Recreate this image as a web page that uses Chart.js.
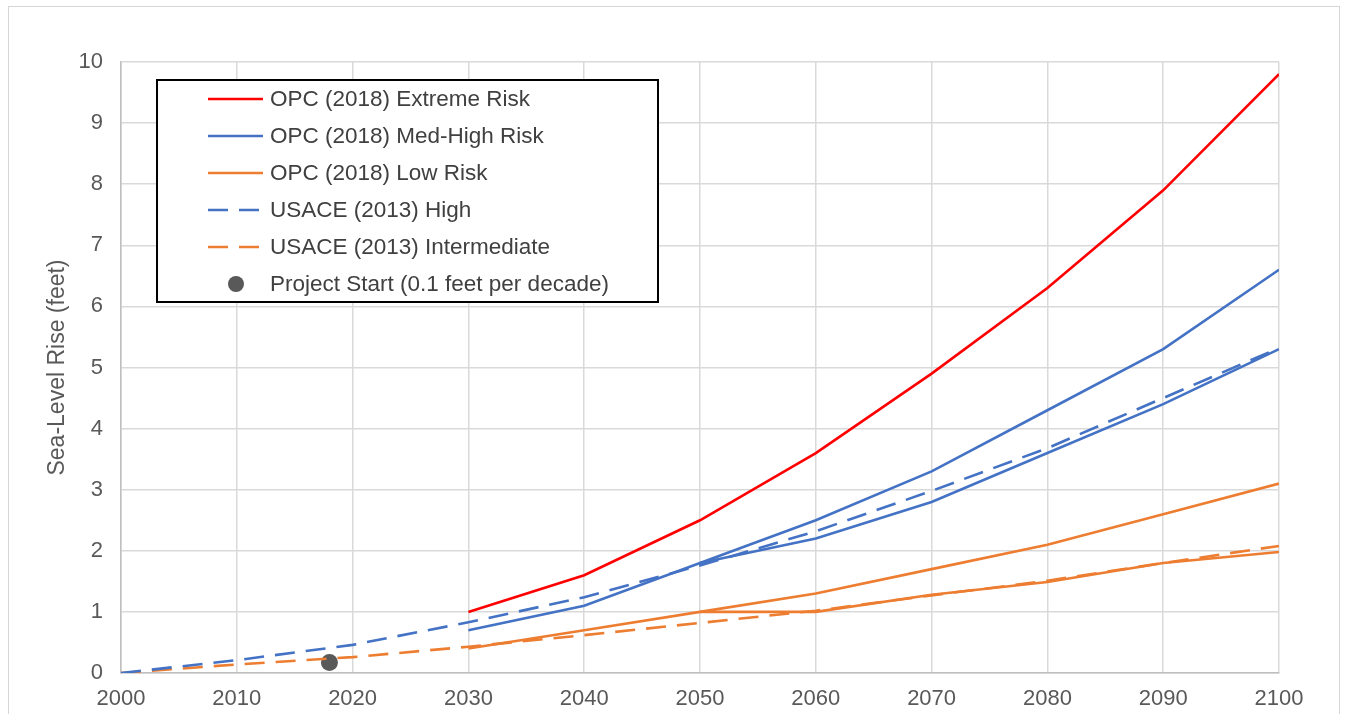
<!DOCTYPE html>
<html>
<head>
<meta charset="utf-8">
<script src="https://cdn.jsdelivr.net/npm/chart.js@4.4.1/dist/chart.umd.min.js"></script>
<style>
  body { margin: 0; background: #fff; }
  #frame { position: absolute; left: 8px; top: 6px; width: 1330px; height: 730px; border: 1.5px solid #D6D6D6; }
  canvas { position: absolute; left: 0; top: 0; }
</style>
</head>
<body>
<div id="frame"></div>
<canvas id="slr" width="1347" height="714"></canvas>
<script>
// decades on the x axis
const years = [2000, 2010, 2020, 2030, 2040, 2050, 2060, 2070, 2080, 2090, 2100];

// sea-level rise in feet (null = no value)
const opcExtreme = [null, null, null, 1.0, 1.6, 2.5, 3.6, 4.9, 6.3, 7.9, 9.8];
const opcMedHigh = [null, null, null, 0.7, 1.1, 1.8, 2.5, 3.3, 4.3, 5.3, 6.6];
const opcLow = [null, null, null, 0.4, 0.7, 1.0, 1.3, 1.7, 2.1, 2.6, 3.1];
const usaceHigh = [0, 0.21, 0.46, 0.83, 1.24, 1.76, 2.32, 2.98, 3.68, 4.5, 5.32];
const usaceIntermediate = [0, 0.14, 0.26, 0.43, 0.62, 0.82, 1.02, 1.27, 1.51, 1.8, 2.08];
// two extra unlabelled lines that start at 2050
const blueExtra = [null, null, null, null, null, 1.8, 2.2, 2.8, 3.6, 4.4, 5.3];
const orangeExtra = [null, null, null, null, null, 1.0, 1.0, 1.28, 1.49, 1.8, 1.98];

const projectStartYear = [2018];
const projectStartValue = [0.17];

const yTicks = [0, 1, 2, 3, 4, 5, 6, 7, 8, 9, 10];

const RED = '#FF0000';
const BLUE = '#4472C4';
const ORANGE = '#ED7D31';
const DOT = '#595959';
const DASH = [20, 11];
const FONT = '"Liberation Sans", Arial, sans-serif';

function pairs(xs, ys) {
  return xs.map((x, i) => ({ x: x, y: ys[i] }));
}

function lineSet(label, values, color, dashed, inLegend) {
  return {
    label: label,
    data: pairs(years, values),
    borderColor: color,
    backgroundColor: color,
    borderWidth: 2.6,
    borderDash: dashed ? DASH : [],
    pointRadius: 0,
    spanGaps: false,
    inLegend: inLegend
  };
}

// legend drawn as a boxed panel inside the plot, like the original
const boxLegend = {
  id: 'boxLegend',
  afterDraw(chart) {
    const ctx = chart.ctx;
    const items = chart.data.datasets.filter(d => d.inLegend);
    const x0 = 157, y0 = 80, w = 501, h = 222;
    ctx.save();
    ctx.fillStyle = '#fff';
    ctx.fillRect(x0, y0, w, h);
    ctx.strokeStyle = '#000';
    ctx.lineWidth = 2;
    ctx.strokeRect(x0, y0, w, h);
    ctx.font = '22.5px ' + FONT;
    ctx.textBaseline = 'middle';
    items.forEach((d, i) => {
      const cy = 99 + i * 37;
      if (d.showLine === false) {
        ctx.beginPath();
        ctx.fillStyle = d.backgroundColor;
        ctx.arc(236, cy, 8, 0, Math.PI * 2);
        ctx.fill();
      } else {
        ctx.beginPath();
        ctx.strokeStyle = d.borderColor;
        ctx.lineWidth = d.borderWidth;
        ctx.setLineDash(d.borderDash || []);
        ctx.moveTo(208, cy);
        ctx.lineTo(263, cy);
        ctx.stroke();
        ctx.setLineDash([]);
      }
      ctx.fillStyle = '#404040';
      ctx.fillText(d.label, 270, cy + 1);
    });
    ctx.restore();
  }
};

new Chart(document.getElementById('slr'), {
  type: 'line',
  data: {
    datasets: [
      lineSet('OPC (2018) Extreme Risk', opcExtreme, RED, false, true),
      lineSet('OPC (2018) Med-High Risk', opcMedHigh, BLUE, false, true),
      lineSet('OPC (2018) Low Risk', opcLow, ORANGE, false, true),
      lineSet('USACE (2013) High', usaceHigh, BLUE, true, true),
      lineSet('USACE (2013) Intermediate', usaceIntermediate, ORANGE, true, true),
      lineSet('High (extra)', blueExtra, BLUE, false, false),
      lineSet('Intermediate (extra)', orangeExtra, ORANGE, false, false),
      {
        label: 'Project Start (0.1 feet per decade)',
        data: pairs(projectStartYear, projectStartValue),
        showLine: false,
        pointRadius: 8.5,
        pointBackgroundColor: DOT,
        pointBorderWidth: 0,
        backgroundColor: DOT,
        borderColor: DOT,
        inLegend: true
      }
    ]
  },
  options: {
    responsive: false,
    animation: false,
    layout: { padding: { left: 0, top: 62, right: 68, bottom: 0 } },
    plugins: {
      legend: { display: false },
      tooltip: { enabled: false }
    },
    scales: {
      x: {
        type: 'linear',
        min: 2000,
        max: 2100,
        afterFit(scale) { scale.height = 41; },
        grid: { color: '#D9D9D9', lineWidth: 1.5, drawTicks: false },
        border: { color: '#BFBFBF', width: 1.5 },
        ticks: {
          stepSize: 10,
          padding: 13,
          color: '#595959',
          font: { size: 22, family: FONT },
          callback: v => String(v)
        }
      },
      y: {
        min: 0,
        max: 10,
        afterFit(scale) { scale.width = 121; },
        afterBuildTicks(scale) { scale.ticks = yTicks.map(v => ({ value: v })); },
        grid: { color: '#D9D9D9', lineWidth: 1.5, drawTicks: false },
        border: { color: '#BFBFBF', width: 1.5 },
        ticks: {
          padding: 18,
          color: '#595959',
          font: { size: 22, family: FONT }
        },
        title: {
          display: true,
          text: 'Sea-Level Rise (feet)',
          color: '#595959',
          padding: { top: 44 },
          font: { size: 23, family: FONT }
        }
      }
    }
  },
  plugins: [boxLegend]
});
</script>
</body>
</html>
